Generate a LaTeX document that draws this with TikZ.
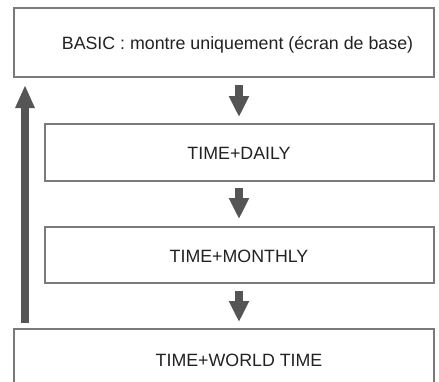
\documentclass[tikz,border=0pt]{standalone}
\usepackage{fontspec}
\setmainfont{Liberation Sans}
\usetikzlibrary{arrows.meta}
\definecolor{boxline}{HTML}{7A7A7A}
\definecolor{arrowgray}{HTML}{555555}
\definecolor{txt}{HTML}{222222}
\begin{document}
\begin{tikzpicture}[x=1pt,y=-1pt,
  box/.style={draw=boxline,line width=1.1pt,inner sep=0pt,outer sep=0pt,fill=white},
  lbl/.style={anchor=base,inner sep=0pt,text=txt,font=\fontsize{17.8}{20}\selectfont},
  bigarrow/.style={draw=arrowgray,line width=8pt,-{Triangle[width=19pt,length=21pt]}}]
\useasboundingbox (0,0) rectangle (439,381);
\clip (0,0) rectangle (439,381);
\node[box,minimum width=420pt,minimum height=69pt] (b1) at (224,42.5) {};
\node[box,minimum width=389pt,minimum height=57pt] (b2) at (239.5,152.5) {};
\node[box,minimum width=389pt,minimum height=56pt] (b3) at (239.5,255) {};
\node[box,minimum width=420pt,minimum height=71pt] (b4) at (224,364.5) {};
\node[lbl] (t1) at (237.5,49.5) {BASIC : montre uniquement (écran de base)};
\node[lbl] (t2) at (239,159.3) {TIME+DAILY};
\node[lbl] (t3) at (239,262) {TIME+MONTHLY};
\node[lbl] (t4) at (239,366) {TIME+WORLD TIME};
\coordinate (ax) at (239,0);
\coordinate (ux) at (25,0);
\draw[bigarrow,shorten <=8pt,shorten >=7pt] (b1.south -| ax) -- (b2.north -| ax);
\draw[bigarrow,shorten <=7pt,shorten >=8pt] (b2.south -| ax) -- (b3.north -| ax);
\draw[bigarrow,shorten <=8pt,shorten >=7pt] (b3.south -| ax) -- (b4.north -| ax);
\draw[bigarrow,line width=7.5pt,-{Triangle[width=18pt,length=23pt]},shorten <=6pt,shorten >=8pt] (b4.north -| ux) -- (b1.south -| ux);
\end{tikzpicture}
\end{document}
